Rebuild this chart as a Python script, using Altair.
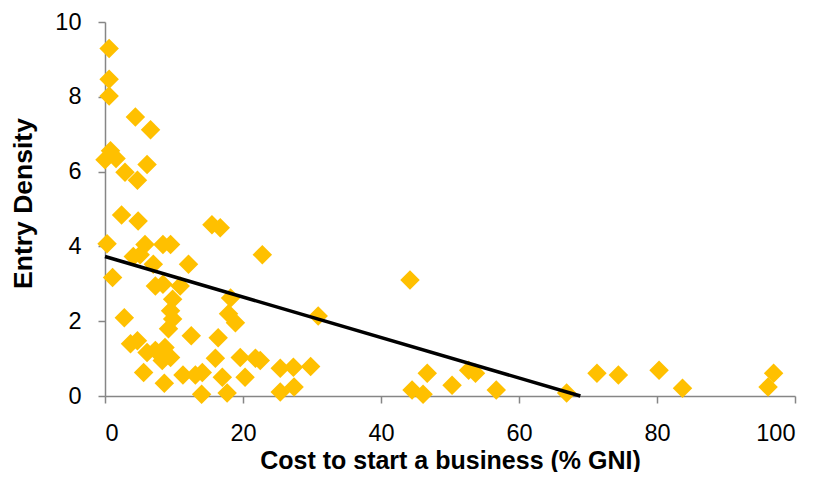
import pandas as pd
import altair as alt

# Cost to start a business (% GNI) vs entry density
cost = [
    0.6, 0.6, 0.6, 4.4, 6.6, 0.8, 0.0, 1.6, 6.1, 2.9, 4.7,
    2.4, 4.8, 15.5, 16.7, 0.3, 5.8, 8.4, 9.5, 4.1, 5.1, 22.8,
    1.1, 12.1, 7.0, 44.2, 10.9, 7.3, 8.4, 18.2, 9.8, 30.9, 2.8,
    9.5, 9.8, 17.9, 18.9, 9.2, 12.5, 16.4, 3.7, 4.7, 6.1, 7.3,
    8.7, 9.5, 8.3, 5.6, 8.6, 16.0, 19.6, 21.8, 22.5, 11.3, 13.1,
    14.1, 17.0, 20.3, 14.0, 17.7, 25.4, 27.3, 29.8, 25.4, 27.4,
    46.7, 44.5, 46.1, 50.3, 52.7, 53.7, 56.7, 66.9, 71.3, 74.4,
    80.3, 83.7, 96.1, 96.9,
]
density = [
    9.29, 8.47, 8.02, 7.46, 7.12, 6.56, 6.32, 6.35, 6.19, 5.98, 5.77,
    4.84, 4.68, 4.58, 4.50, 4.07, 4.05, 4.05, 4.05, 3.73, 3.78, 3.78,
    3.17, 3.52, 3.52, 3.10, 2.94, 2.94, 2.99, 2.62, 2.59, 2.14, 2.09,
    2.28, 2.06, 2.20, 1.96, 1.80, 1.61, 1.56, 1.40, 1.48, 1.16, 1.22,
    1.30, 1.03, 0.95, 0.63, 0.34, 1.01, 1.03, 1.01, 0.95, 0.56, 0.56,
    0.63, 0.50, 0.50, 0.05, 0.08, 0.74, 0.77, 0.79, 0.11, 0.24,
    0.61, 0.16, 0.05, 0.29, 0.69, 0.61, 0.16, 0.08, 0.61, 0.56,
    0.69, 0.21, 0.24, 0.61,
]

# linear trendline (Excel style, clipped at y = 0)
trend_x = [0, 68.9]
trend_y = [3.73, 0]

pts = pd.DataFrame({"cost": cost, "density": density})
trend = pd.DataFrame({"cost": trend_x, "density": trend_y})

FONT = "Liberation Sans"

x_enc = alt.X(
    "cost:Q",
    scale=alt.Scale(domain=[0, 100], nice=False),
    axis=alt.Axis(
        title="Cost to start a business (% GNI)",
        values=[0, 20, 40, 60, 80, 100],
        grid=False,
        tickSize=7,
        labelPadding=18,
        titleBaseline="alphabetic",
        titleY=72,
        titleFontSize=25,
    ),
)
y_enc = alt.Y(
    "density:Q",
    scale=alt.Scale(domain=[0, 10], nice=False),
    axis=alt.Axis(
        title="Entry Density",
        values=[0, 2, 4, 6, 8, 10],
        grid=False,
        tickSize=7,
        labelPadding=17,
        titleX=-82,
        titleY=181,
        titleAlign="center",
        titleBaseline="middle",
        titleAngle=270,
    ),
)

points = alt.Chart(pts).mark_point(
    shape="diamond", filled=True, size=380, color="#FFC000", opacity=1
).encode(x=x_enc, y=y_enc)

line = alt.Chart(trend).mark_line(color="black", strokeWidth=3.5).encode(
    x="cost:Q", y="density:Q"
)

chart = (
    (points + line)
    .properties(
        width=690,
        height=374,
        autosize="none",
        padding={"left": 97, "top": 14, "right": 16, "bottom": 76},
    )
    .configure_view(strokeWidth=0)
    .configure_axis(
        labelFont=FONT,
        titleFont=FONT,
        labelFontSize=23.5,
        titleFontSize=26.5,
        titleFontWeight="bold",
        labelColor="black",
        titleColor="black",
        domainColor="#868686",
        tickColor="#868686",
        domainWidth=1.5,
        tickWidth=1.5,
    )
)

chart.save("out.html", embed_options={"renderer": "svg", "actions": False})
